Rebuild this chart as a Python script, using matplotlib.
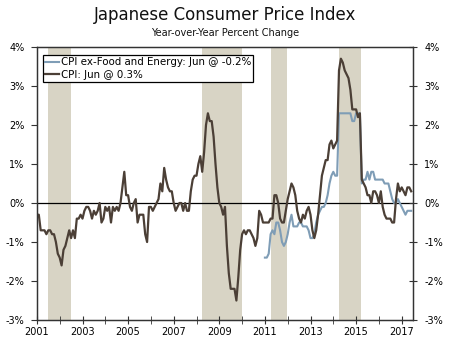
import numpy as np
import matplotlib
matplotlib.use("Agg")
import matplotlib.pyplot as plt

# monthly year-over-year % change, Jan 2001 - Jun 2017
cpi = [
    -0.3, -0.3, -0.7, -0.7, -0.7, -0.8, -0.7, -0.7, -0.8, -0.8, -1.0, -1.3,   # 2001
    -1.4, -1.6, -1.2, -1.1, -0.9, -0.7, -0.9, -0.7, -0.9, -0.4, -0.4, -0.3,   # 2002
    -0.4, -0.2, -0.1, -0.1, -0.2, -0.4, -0.2, -0.3, -0.2, 0.0, -0.5, -0.4,    # 2003
    -0.1, -0.2, -0.1, -0.5, -0.1, -0.2, -0.1, -0.2, 0.0, 0.4, 0.8, 0.2,       # 2004
    0.2, -0.1, -0.2, 0.0, 0.1, -0.5, -0.3, -0.3, -0.3, -0.8, -1.0, -0.1,      # 2005
    -0.1, -0.2, -0.1, 0.0, 0.1, 0.5, 0.3, 0.9, 0.6, 0.4, 0.3, 0.3,            # 2006
    0.0, -0.2, -0.1, 0.0, 0.0, -0.2, 0.0, -0.2, -0.2, 0.3, 0.6, 0.7,          # 2007
    0.7, 1.0, 1.2, 0.8, 1.3, 2.0, 2.3, 2.1, 2.1, 1.7, 1.0, 0.4,               # 2008
    0.0, -0.1, -0.3, -0.1, -1.1, -1.8, -2.2, -2.2, -2.2, -2.5, -1.9, -1.2,    # 2009
    -0.8, -0.7, -0.8, -0.7, -0.7, -0.8, -0.9, -1.1, -0.9, -0.2, -0.3, -0.5,   # 2010
    -0.5, -0.5, -0.5, -0.4, -0.4, 0.2, 0.2, 0.0, -0.4, -0.5, -0.5, -0.2,      # 2011
    0.1, 0.3, 0.5, 0.4, 0.2, -0.2, -0.4, -0.5, -0.3, -0.4, -0.2, -0.1,        # 2012
    -0.3, -0.7, -0.9, -0.7, -0.3, 0.2, 0.7, 0.9, 1.1, 1.1, 1.5, 1.6,          # 2013
    1.4, 1.5, 1.6, 3.4, 3.7, 3.6, 3.4, 3.3, 3.2, 2.9, 2.4, 2.4,               # 2014
    2.4, 2.2, 2.3, 0.6, 0.5, 0.4, 0.2, 0.2, 0.0, 0.3, 0.3, 0.2,               # 2015
    0.0, 0.3, -0.1, -0.3, -0.4, -0.4, -0.4, -0.5, -0.5, 0.1, 0.5, 0.3,        # 2016
    0.4, 0.3, 0.2, 0.4, 0.4, 0.3,                                             # 2017
]

# ex-food and energy, Jan 2011 - Jun 2017
core = [
    -1.4, -1.4, -1.3, -0.8, -0.7, -0.8, -0.5, -0.5, -0.7, -1.0, -1.1, -1.0,   # 2011
    -0.8, -0.5, -0.3, -0.6, -0.6, -0.6, -0.5, -0.5, -0.6, -0.6, -0.6, -0.7,   # 2012
    -0.9, -0.9, -0.8, -0.5, -0.3, -0.2, -0.1, -0.1, 0.0, 0.2, 0.5, 0.7,       # 2013
    0.8, 0.7, 0.7, 2.3, 2.3, 2.3, 2.3, 2.3, 2.3, 2.3, 2.1, 2.1,               # 2014
    2.3, 2.3, 2.3, 0.5, 0.6, 0.6, 0.8, 0.6, 0.8, 0.8, 0.6, 0.6,               # 2015
    0.6, 0.6, 0.6, 0.5, 0.5, 0.5, 0.3, 0.1, 0.0, 0.0, 0.1, 0.0,               # 2016
    -0.1, -0.2, -0.3, -0.2, -0.2, -0.2,                                       # 2017
]

# shaded periods (start, end) in decimal years
shades = [(2001.5, 2002.5), (2008.25, 2010.0), (2011.25, 2011.97), (2014.25, 2015.22)]

year_labels = [2001, 2003, 2005, 2007, 2009, 2011, 2013, 2015, 2017]
y_ticks = [-3, -2, -1, 0, 1, 2, 3, 4]

t_cpi = 2001 + np.arange(len(cpi)) / 12
t_core = 2011 + np.arange(len(core)) / 12

brown = "#4b3f36"
blue = "#7f9db6"
shade = "#d8d4c5"

fig = plt.figure(figsize=(4.5, 3.43), dpi=100)
ax = fig.add_axes([0.082, 0.067, 0.836, 0.796])

for a, b in shades:
    ax.axvspan(a, b, color=shade, lw=0, zorder=0)
ax.axhline(0, color="black", lw=0.9, zorder=1)

ax.plot(t_core, core, color=blue, lw=1.5, zorder=2,
        label="CPI ex-Food and Energy: Jun @ -0.2%")
ax.plot(t_cpi, cpi, color=brown, lw=1.6, zorder=3,
        label="CPI: Jun @ 0.3%")

ax.set_xlim(2001, 2017.5)
ax.set_ylim(-3, 4)
ax.set_xticks(year_labels)
ax.set_xticklabels([str(y) for y in year_labels])
ax.set_xticks(np.arange(2002, 2017, 2), minor=True)
ax.tick_params(axis="x", which="both", direction="inout", length=6,
               labelsize=7, pad=2, color="#333333")
ax.set_yticks(y_ticks)
ax.set_yticklabels([f"{v}%" for v in y_ticks])
ax.tick_params(axis="y", direction="out", length=4, labelsize=7, pad=5,
               color="#333333")

ax2 = ax.twinx()
ax2.set_ylim(-3, 4)
ax2.set_yticks(y_ticks)
ax2.set_yticklabels([f"{v}%" for v in y_ticks])
ax2.tick_params(axis="y", direction="inout", length=6, labelsize=7, pad=5,
                color="#333333")

for s in list(ax.spines.values()) + list(ax2.spines.values()):
    s.set_color("#333333")
    s.set_linewidth(0.9)

leg = ax.legend(loc="upper left", bbox_to_anchor=(0.01, 0.978), fontsize=7.4,
                frameon=True, fancybox=False, handlelength=1.4,
                handletextpad=0.15, borderpad=0.2, labelspacing=0.25,
                borderaxespad=0.2)
leg.get_frame().set_edgecolor("black")
leg.get_frame().set_linewidth(0.9)
leg.get_frame().set_alpha(1)

fig.text(0.5, 0.955, "Japanese Consumer Price Index", ha="center", va="center",
         fontsize=12, color="#111111")
fig.text(0.5, 0.905, "Year-over-Year Percent Change", ha="center", va="center",
         fontsize=7, color="#111111")

fig.savefig("out.png", dpi=100)
